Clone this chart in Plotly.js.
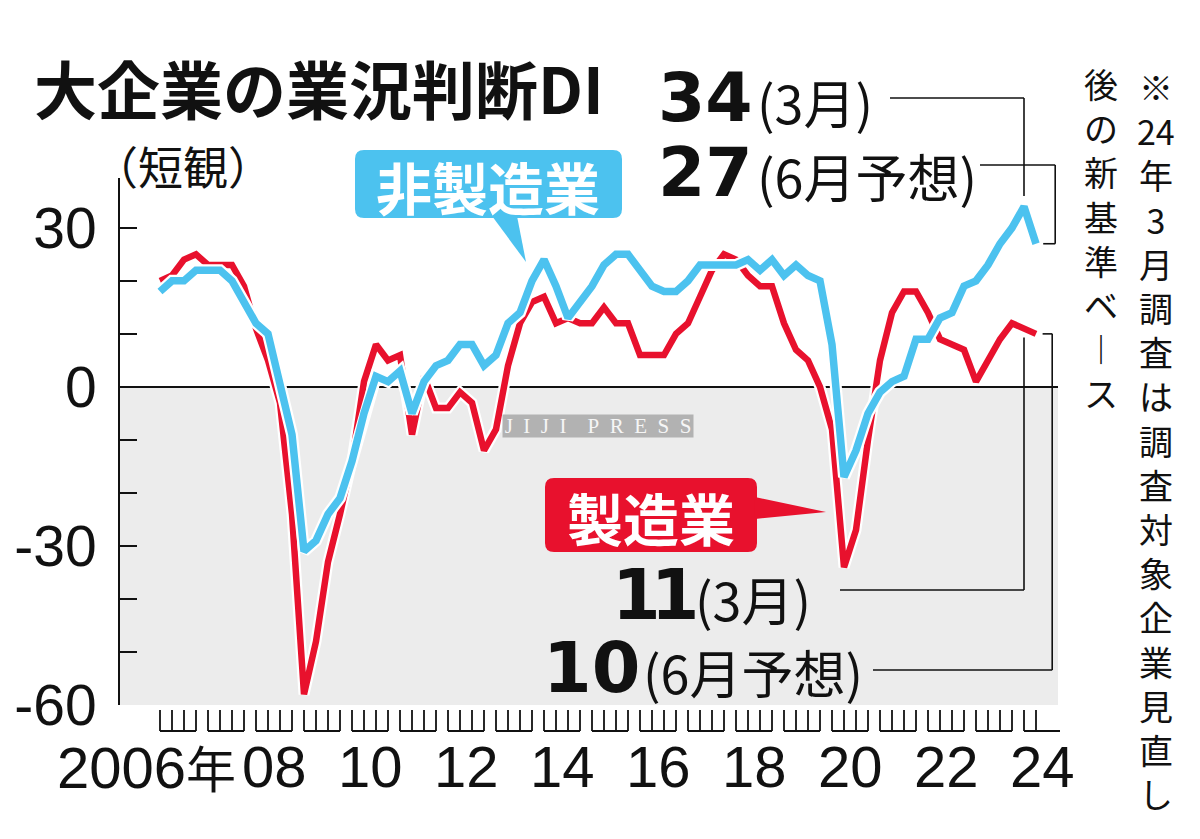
<!DOCTYPE html>
<html>
<head>
<meta charset="utf-8">
<script src="https://cdn.plot.ly/plotly-3.0.1.min.js"></script>
<style>
html,body{margin:0;padding:0;background:#fff;}
#chart{width:1200px;height:839px;}
</style>
</head>
<body>
<div id="chart"></div>
<script>
// ---------------- data ----------------
const years = [2006,2007,2008,2009,2010,2011,2012,2013,2014,2015,2016,2017,2018,2019,2020,2021,2022,2023,2024];
const quarterMonths = [3,6,9,12];
// 大企業・製造業 (quarterly, 2006年3月 … 2024年6月予想)
const manufacturing = [20,21,24,25, 23,23,23,19, 11,5,-3,-24, -58,-48,-33,-24, -14,1,8,5, 6,-9,2,-4, -4,-1,-3,-12, -8,4,12,16, 17,12,13,12, 12,15,12,12, 6,6,6,10, 12,17,22,25, 24,21,19,19, 12,7,5,0, -8,-34,-27,-10, 5,14,18,18, 14,9,8,7, 1,5,9,12, 11,10];
// 大企業・非製造業
const nonManufacturing = [18,20,20,22, 22,22,20,16, 12,10,1,-9, -31,-29,-24,-21, -14,-5,2,1, 3,-5,1,4, 5,8,8,4, 6,12,14,20, 24,19,13,16, 19,23,25,25, 22,19,18,18, 20,23,23,23, 23,24,22,24, 21,23,21,20, 8,-17,-12,-5, -1,1,2,9, 9,13,14,19, 20,23,27,30, 34,27];
const labelYears = [2006,2008,2010,2012,2014,2016,2018,2020,2022,2024];
const yearTickLabels = ["2006","08","10","12","14","16","18","20","22","24"];
const yTickVals = [-60,-30,0,30];
const yTickText = ["-60","-30","0","30"];
const noteRight = ["※","24","年","3","月","調","査","は","調","査","対","象","企","業","見","直","し"];
const noteLeft = ["後","の","新","基","準","ベ","︱","ス"];

// ---------------- helpers ----------------
const periods = [];
years.forEach(y => quarterMonths.forEach(m => {
  if (periods.length < manufacturing.length) periods.push(y + "年" + m + "月");
}));
const RED = "#e8112d", BLUE = "#4cc2ef";
const JP = '"Noto Sans CJK JP", "Noto Sans", sans-serif';
const NARROW = '"Liberation Sans Narrow", "Liberation Sans", sans-serif';
const W = 1200, H = 839;
const L = 120, R = 1058, T = 178, B = 705;
const X0 = -40/12, X1 = 898/12;
const Y0 = -60, Y1 = 39.4;
const PX = px => (px - L) / (R - L);
const PY = py => (B - py) / (B - T);
const DX = i => (i - X0) / (X1 - X0);
const DY = v => (v - Y0) / (Y1 - Y0);

const shapes = [];
const annotations = [];
function line(x0, y0, x1, y1, w) {
  shapes.push({type:"line", xref:"paper", yref:"paper", x0:x0, y0:y0, x1:x1, y1:y1,
    line:{color:"#111", width:w||1.6}, layer:"above"});
}
function roundRect(x0, y0, x1, y1, r, color) {
  const p = (x, y) => PX(x).toFixed(5) + "," + PY(y).toFixed(5);
  const path = "M" + p(x0+r,y0) + " L" + p(x1-r,y0) + " Q" + p(x1,y0) + " " + p(x1,y0+r) +
    " L" + p(x1,y1-r) + " Q" + p(x1,y1) + " " + p(x1-r,y1) + " L" + p(x0+r,y1) +
    " Q" + p(x0,y1) + " " + p(x0,y1-r) + " L" + p(x0,y0+r) + " Q" + p(x0,y0) + " " + p(x0+r,y0) + " Z";
  shapes.push({type:"path", xref:"paper", yref:"paper", path:path, fillcolor:color, line:{width:0}, layer:"above"});
}
function tri(pts, color) {
  const path = "M" + pts.map(q => PX(q[0]).toFixed(5) + "," + PY(q[1]).toFixed(5)).join(" L") + " Z";
  shapes.push({type:"path", xref:"paper", yref:"paper", path:path, fillcolor:color, line:{width:0}, layer:"above"});
}
function text(t, x, y, size, opts) {
  opts = opts || {};
  const font = {family:opts.family || JP, size:size, color:opts.color || "#111", weight:opts.weight || 400};
  annotations.push({text:t, xref:"paper", yref:"paper", x:x, y:y, showarrow:false,
    xanchor:opts.xanchor || "center", yanchor:opts.yanchor || "middle", align:opts.align || "center",
    font:font, bgcolor:opts.bgcolor, width:opts.width, height:opts.height, borderpad:0});
}

// gray negative area
shapes.push({type:"rect", xref:"paper", yref:"y", x0:0, x1:1, y0:Y0, y1:0,
  fillcolor:"#ececec", line:{width:0}, layer:"below"});

// quarter tick brackets under the axis
years.forEach((y, k) => {
  const n = Math.min(4, manufacturing.length - 4*k);
  for (let q = 0; q < n; q++) {
    shapes.push({type:"line", xref:"paper", yref:"paper", x0:DX(4*k+q), x1:DX(4*k+q),
      y0:PY(710), y1:PY(731), line:{color:"#111", width:1.8}});
  }
  shapes.push({type:"line", xref:"paper", yref:"paper", x0:DX(4*k), x1:DX(4*k+3),
    y0:PY(731), y1:PY(731), line:{color:"#111", width:1.8}});
});

// year labels
labelYears.forEach((y, j) => {
  const k = years.indexOf(y);
  if (j === 0) {
    text(yearTickLabels[j] + '<span style="font-family:\'Noto Sans CJK JP\';font-size:50px">年</span>',
      PX(237), PY(766), 58, {xanchor:"right", family:NARROW});
  } else {
    text(yearTickLabels[j], DX(4*k+1.5), PY(766), 58, {family:NARROW});
  }
});

// title
text("大企業の業況判断DI", PX(33), PY(86), 63, {xanchor:"left", weight:700});
text("（短観）", PX(92), PY(165), 45, {xanchor:"left"});

// series labels
roundRect(355, 150, 622, 218, 9, BLUE);
tri([[492,216],[517,216],[526,262]], BLUE);
text("非製造業", PX(488), PY(185), 56, {color:"#fff", weight:700});
roundRect(545, 478, 757, 552, 9, RED);
tri([[755,497],[755,519],[826,512]], RED);
text("製造業", PX(651), PY(516), 56, {color:"#fff", weight:700});

// callouts
const last = manufacturing.length - 1, prev = last - 1;
const NUMF = '"DejaVu Sans", sans-serif';
text(String(nonManufacturing[prev]), PX(754), PY(98), 68, {xanchor:"right", family:NUMF, weight:700});
text("(3月)", PX(756), PY(101), 52, {xanchor:"left"});
text(String(nonManufacturing[last]), PX(754), PY(173), 68, {xanchor:"right", family:NUMF, weight:700});
text("(6月予想)", PX(756), PY(176), 52, {xanchor:"left"});
text('<span style="letter-spacing:-10px">' + String(manufacturing[prev]) + '</span>', PX(696), PY(595), 70,
  {xanchor:"right", family:NUMF, weight:700});
text("(3月)", PX(694), PY(598), 52, {xanchor:"left"});
text(String(manufacturing[last]), PX(641), PY(668), 70, {xanchor:"right", family:NUMF, weight:700});
text("(6月予想)", PX(642), PY(671), 52, {xanchor:"left"});

// leader lines
line(PX(890), PY(98), DX(prev), PY(98));
line(DX(prev), PY(98), DX(prev), DY(nonManufacturing[prev] + 2));
line(PX(980), PY(165), DX(last + 1.6), PY(165));
line(DX(last + 1.6), PY(165), DX(last + 1.6), DY(nonManufacturing[last]));
line(DX(last + 1.6), DY(nonManufacturing[last]), DX(last + 0.6), DY(nonManufacturing[last]));
line(DX(prev), DY(manufacturing[prev] - 1.7), DX(prev), PY(590));
line(DX(prev), PY(590), PX(840), PY(590));
line(DX(last + 1.35), DY(manufacturing[last]), DX(last + 1.35), PY(670));
line(DX(last + 1.35), DY(manufacturing[last]), DX(last + 0.55), DY(manufacturing[last]));
line(DX(last + 1.35), PY(670), PX(873), PY(670));

// vertical note (one column = one text block)
const pitch = 44.2, noteSize = 34;
text(noteRight.join("<br>"), PX(1156), PY(86 + (noteRight.length - 1) * pitch / 2), noteSize);
text(noteLeft.join("<br>"), PX(1101), PY(83 + (noteLeft.length - 1) * pitch / 2), noteSize);

// watermark
text("J&nbsp;&nbsp;I&nbsp;&nbsp;J&nbsp;&nbsp;I&nbsp;&nbsp;&nbsp;&nbsp;P&nbsp;&nbsp;R&nbsp;&nbsp;E&nbsp;&nbsp;S&nbsp;&nbsp;S", PX(598), PY(426), 21,
  {family:'"Liberation Serif", serif', color:"#f6f6f6", bgcolor:"rgba(168,168,168,0.85)", width:190, height:22});

const traces = [
  {x:periods, y:manufacturing, type:"scatter", mode:"lines", line:{color:"#fff", width:11}, hoverinfo:"skip", showlegend:false},
  {x:periods, y:manufacturing, type:"scatter", mode:"lines", name:"製造業", line:{color:RED, width:6.5}, showlegend:false},
  {x:periods, y:nonManufacturing, type:"scatter", mode:"lines", line:{color:"#fff", width:12}, hoverinfo:"skip", showlegend:false},
  {x:periods, y:nonManufacturing, type:"scatter", mode:"lines", name:"非製造業", line:{color:BLUE, width:7.5}, showlegend:false}
];

const layout = {
  width:W, height:H,
  margin:{l:L, r:W-R, t:T, b:H-B, pad:0},
  paper_bgcolor:"#fff", plot_bgcolor:"rgba(0,0,0,0)",
  showlegend:false,
  xaxis:{type:"category", range:[X0, X1], showticklabels:false, ticks:"", showgrid:false,
    zeroline:false, showline:false, fixedrange:true},
  yaxis:{range:[Y0, Y1], tickvals:yTickVals, ticktext:yTickText, ticks:"inside", ticklen:17,
    tickwidth:2, tickcolor:"#111", showline:true, linecolor:"#111", linewidth:2,
    showgrid:false, zeroline:true, zerolinecolor:"#111", zerolinewidth:2,
    ticklabelstandoff:10,
    minor:{dtick:10, tick0:0, ticks:"inside", ticklen:17, tickwidth:2, tickcolor:"#111", showgrid:false},
    tickfont:{family:'"Liberation Sans", Arial, sans-serif', size:57, color:"#111"}, fixedrange:true},
  shapes:shapes,
  annotations:annotations
};
Plotly.newPlot("chart", traces, layout, {displayModeBar:false, staticPlot:true});
</script>
</body>
</html>
